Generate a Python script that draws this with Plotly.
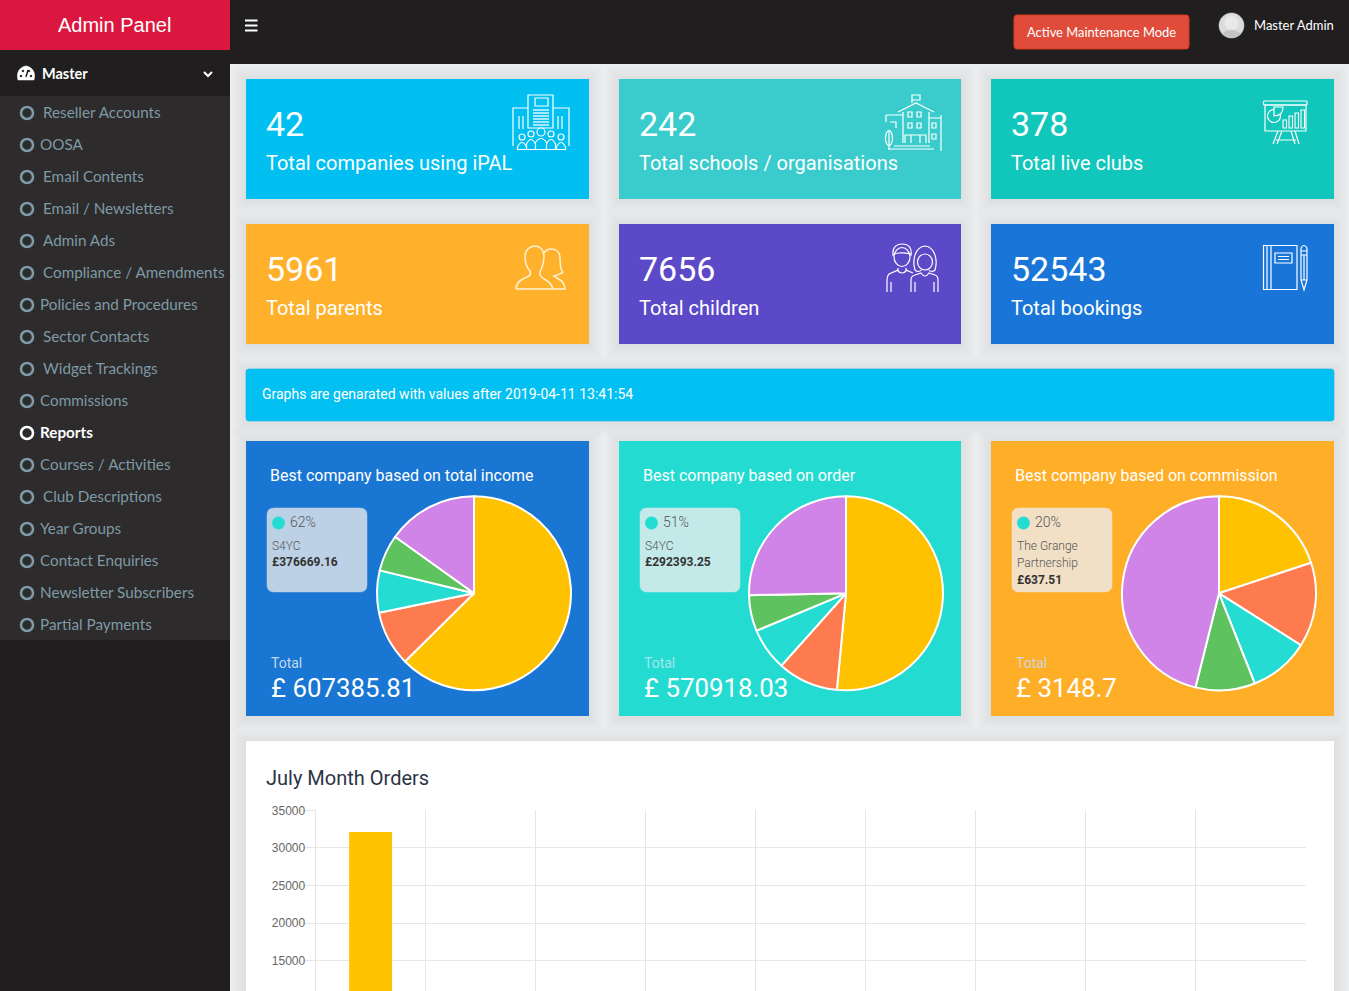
import re
import plotly.graph_objects as go

W, H = 1349, 991

# ---------- data ----------
menu_labels = ["Reseller Accounts", "OOSA", "Email Contents", "Email / Newsletters", "Admin Ads",
               "Compliance / Amendments", "Policies and Procedures", "Sector Contacts", "Widget Trackings",
               "Commissions", "Reports", "Courses / Activities", "Club Descriptions", "Year Groups",
               "Contact Enquiries", "Newsletter Subscribers", "Partial Payments"]
menu_indented = [1, 0, 1, 1, 1, 1, 0, 1, 1, 0, 0, 0, 1, 0, 0, 0, 0]

stat_numbers = ["42", "242", "378", "5961", "7656", "52543"]
stat_labels = ["Total companies using iPAL", "Total schools / organisations", "Total live clubs",
               "Total parents", "Total children", "Total bookings"]
stat_colors = ["#01bff1", "#3acccc", "#11c6ba", "#ffb12b", "#5c49c8", "#1976d8"]

pie_titles = ["Best company based on total income", "Best company based on order", "Best company based on commission"]
pie_totals = ["£ 607385.81", "£ 570918.03", "£ 3148.7"]
pie_percent = ["62%", "51%", "20%"]
pie_company = [["S4YC"], ["S4YC"], ["The Grange", "Partnership"]]
pie_best = ["£376669.16", "£292393.25", "£637.51"]
pie_card_colors = ["#1976d2", "#24dbd1", "#ffaf27"]
pie_tip_colors = ["#bdd1e6", "#c3eae8", "#f2e0c6"]
pie_total_colors = ["#c3d8ee", "#a8e6ee", "#cdd6d6"]
slice_colors = ["#ffc200", "#fd7b4f", "#25dcd2", "#5ec35f", "#d184e8"]
pie_income = [62.6, 9.2, 7.0, 6.1, 15.1]
pie_order = [51.5, 10.1, 7.1, 6.0, 25.3]
pie_commission = [19.9, 14.1, 10.0, 9.9, 46.1]

order_categories = ["1", "2", "3", "4", "5", "6", "7", "8", "9"]
order_values = [32100, 0, 0, 0, 0, 0, 0, 0, 0]
order_ticks = [15000, 20000, 25000, 30000, 35000]

SOURCE = "Lato"
ROBOTO = "Roboto"

# ---------- px helpers ----------
def fx(x): return round(x / W, 6)
def fy(y): return round(1 - y / H, 6)

def to_paper(path):
    state = {"i": 0}
    def sub(m):
        v = float(m.group(0))
        r = fx(v) if state["i"] % 2 == 0 else fy(v)
        state["i"] += 1
        return str(r)
    return re.sub(r"-?\d+\.?\d*", sub, path)

shapes, notes = [], []

def rect(x0, y0, x1, y1, fill):
    shapes.append(dict(type="rect", xref="paper", yref="paper", x0=fx(x0), x1=fx(x1), y0=fy(y1), y1=fy(y0),
                       fillcolor=fill, line=dict(width=0), layer="below"))

def path(d, color="#ffffff", width=1.2, fill="rgba(0,0,0,0)"):
    shapes.append(dict(type="path", xref="paper", yref="paper", path=to_paper(d), fillcolor=fill,
                       line=dict(color=color, width=width), layer="below"))

def rrect_d(x0, y0, x1, y1, r):
    return (f"M{x0+r},{y0} L{x1-r},{y0} Q{x1},{y0} {x1},{y0+r} L{x1},{y1-r} Q{x1},{y1} {x1-r},{y1} "
            f"L{x0+r},{y1} Q{x0},{y1} {x0},{y1-r} L{x0},{y0+r} Q{x0},{y0} {x0+r},{y0} Z")

def circle_d(cx, cy, r, ry=None):
    ry = r if ry is None else ry
    k, ky = r * 0.5523, ry * 0.5523
    return (f"M{cx-r},{cy} C{cx-r},{cy-ky} {cx-k},{cy-ry} {cx},{cy-ry} C{cx+k},{cy-ry} {cx+r},{cy-ky} {cx+r},{cy} "
            f"C{cx+r},{cy+ky} {cx+k},{cy+ry} {cx},{cy+ry} C{cx-k},{cy+ry} {cx-r},{cy+ky} {cx-r},{cy} Z")

def box_d(x0, y0, x1, y1):
    return f"M{x0},{y0} L{x1},{y0} L{x1},{y1} L{x0},{y1} Z"

def text(x, y, s, size, color="#ffffff", family=ROBOTO, anchor="left", weight=None):
    f = dict(size=size, color=color, family=family)
    if weight:
        f["weight"] = weight
    shift = -1 if anchor == "left" else 0
    notes.append(dict(xref="paper", yref="paper", x=fx(x + shift), y=fy(y), text=s, showarrow=False, xanchor=anchor,
                      yanchor="middle", font=f, borderpad=0, align="left"))

def shadow(x0, y0, x1, y1):
    for i in range(1, 15):
        rect(x0 - i, y0 - i + 1, x1 + i, y1 + i + 1, "rgba(0,0,0,0.0035)")

# ---------- page frame ----------
PAGE = "#ecedee"
DARK = "#211e1f"
rect(230, 64, W, H, PAGE)
rect(0, 0, W, 64, DARK)
rect(0, 50, 230, H, DARK)
rect(0, 0, 230, 50, "#dc173f")
rect(0, 96, 230, 640, "#2d2b2c")
text(115, 25, "Admin Panel", 20, family="Liberation Sans", anchor="center")

# hamburger
for y in (20.5, 25.5, 30.5):
    rect(245, y - 1, 257.5, y + 1, "#ffffff")

# maintenance button
path(rrect_d(1014, 15, 1189, 49, 3), color="#d73925", width=1, fill="#e04b3a")
text(1101.5, 32, "Active Maintenance Mode", 12.9, family=SOURCE, anchor="center")

# avatar
path(circle_d(1231.5, 25.5, 12.5), color="#d9d9d9", width=0.5, fill="#dcdcdc")
path(circle_d(1231.5, 23, 6.5, 7), color="#e9e9e9", width=0.5, fill="#e9e9e9")
path("M1222,34 Q1231.5,26 1241,34 Q1231.5,41 1222,34 Z", color="#c4c4c4", width=0.5, fill="#c4c4c4")
text(1254, 25, "Master Admin", 13, family=SOURCE)

# master row
path("M18,80 C15,69 24,66 26,66 C28,66 37,69 34,80 Z", color="#ffffff", width=0.5, fill="#ffffff")
for cx, cy in [(21, 76), (23, 71), (29, 71), (31, 76)]:
    path(circle_d(cx, cy, 1.1), color=DARK, width=0.3, fill=DARK)
path("M26,77 L28,70", color=DARK, width=1.5)
text(42, 74, "Master", 14.5, family=SOURCE, weight=700)
path("M204,72 L208,76 L212,72", width=2)

# sidebar menu
for i, (label, ind) in enumerate(zip(menu_labels, menu_indented)):
    y = 113 + 32 * i
    active = label == "Reports"
    col = "#ffffff" if active else "#7e9aa5"
    path(circle_d(27, y, 6), color=col, width=2.6)
    text(43 if ind else 40, y - 1, label, 15.25, color=col, family=SOURCE, weight=700 if active else None)

# ---------- stat cards ----------
card_x = [(246, 589), (619, 961), (991, 1334)]
card_y = [(79, 199), (224, 344)]
for i in range(6):
    x0, x1 = card_x[i % 3]
    y0, y1 = card_y[i // 3]
    shadow(x0, y0, x1, y1)
for i in range(6):
    x0, x1 = card_x[i % 3]
    y0, y1 = card_y[i // 3]
    rect(x0, y0, x1, y1, stat_colors[i])
    text(x0 + 20, y0 + 45, stat_numbers[i], 34)
    text(x0 + 20, y0 + 84, stat_labels[i], 20)

# icon 1: tower with people
path(box_d(528, 95, 553, 128))
path(box_d(535, 98, 548, 106))
path("M528,108 L513,108 L513,146 M553,108 L569,108 L569,146")
for x in (519, 523, 558, 562):
    path(f"M{x},116 L{x},129")
for gy in (110, 113, 116, 119, 122, 125):
    path(f"M533,{gy} L549,{gy}", width=1.3)
for hx, hy, hr, bw in [(541, 132, 4, 6), (531, 134, 3, 4.5), (551, 134, 3, 4.5), (522, 137, 3, 4.5), (561, 137, 3, 4.5)]:
    path(circle_d(hx, hy, hr), fill=stat_colors[0])
    path(f"M{hx-bw},149.5 L{hx-bw},{hy+hr+7} Q{hx},{hy+hr-2} {hx+bw},{hy+hr+7} L{hx+bw},149.5 Z", fill=stat_colors[0])

# icon 2: school
path("M912,103 L912,95 L920,95 L920,100 L912,100")
path("M898,112 L916,103 L934,112")
path("M903,112 L903,143 M929,112 L929,143")
for wx in (908, 917):
    for wy in (112, 123):
        path(box_d(wx, wy, wx + 4, wy + 5))
path("M905,143 L905,135 L926,135 L926,143 M911,135 L911,143 M920,135 L920,143")
path("M929,118 L941,118 M941,115 L941,151")
path(box_d(932, 123, 936, 128))
path(box_d(932, 134, 936, 139))
path("M886,115 L903,115 M886,115 L886,122 M890,122 L896,122 L896,128")
path(circle_d(889, 138, 3.5, 7.5))
path("M889,130 L889,150")
path("M888,149 L934,149 M894,146 L930,146")

# icon 3: presentation board
path(rrect_d(1263.5, 101, 1307, 105, 1))
path(box_d(1265, 105, 1306, 131))
path(circle_d(1274, 116, 6.5))
path("M1274,116 L1274,107 L1283,107 Q1283,116 1274,116 Z", fill=stat_colors[2])
for bx, by in [(1283, 120), (1289, 116), (1295, 113), (1301, 110)]:
    path(box_d(bx, by, bx + 3.5, 128), width=1.1)
path("M1278,131 L1273,144 M1282,131 L1277,144 M1295,131 L1299,144 M1291,131 L1295,144 M1276,140 L1296,140")

# icon 4: two silhouettes
path("M516,289 L565,289 C565,283 561,280 557,278 L554,276 C558,275 561,274 563,272 C560,270 560,262 560,258 "
     "C560,252 556,249 551,249 C547,249 545,251 543,254", color="#fff1d6", width=1.5)
path("M516,289 C516,283 520,280 527,277 C530,276 531,274 530,271 C527,268 525,262 525,256 C525,250 530,246 535,246 "
     "C540,246 544,250 544,256 C544,262 542,268 540,272 C539,275 541,277 544,279 C548,281 552,285 553,289",
     color="#fff1d6", width=1.5)

# icon 5: boy and girl
path(circle_d(902, 257, 8, 9.5))
path("M893,255 C892,246 898,244 902,244 C909,244 912,248 911,255 C908,252 903,253 899,253 C896,253 894,254 893,255 Z")
path("M898,268 L898,270 L889,274 Q887,276 887,280 L887,292 M891,282 L891,292 M906,268 L906,270 L913,273")
path("M897,270 Q902,276 907,270")
path(circle_d(925, 262, 7.5, 8))
path("M915,270 C912,260 915,247 925,246 C935,247 938,260 935,270 C933,272 930,272 929,270 M915,270 C917,272 920,272 921,270")
path("M911,292 L911,280 Q911,276 915,275 L921,273 Q925,279 929,273 L935,275 Q938,276 938,280 L938,292 M915,282 L915,292 M934,282 L934,292")

# icon 6: notebook and pencil
path(box_d(1263.5, 245.5, 1297, 289.5))
path("M1267,245.5 L1267,289.5 M1271,245.5 L1271,289.5")
path(box_d(1275, 253, 1292, 263))
path("M1278,256.5 L1289,256.5 M1278,259.5 L1289,259.5", width=1)
path("M1301,280 L1301,248 Q1304,243 1307,248 L1307,280 L1304,290 Z")
path("M1301,251 L1307,251 M1301,255 L1307,255 M1301,280 L1307,280 M1304,255 L1304,280")

# ---------- info bar ----------
shadow(246, 369, 1334, 421)
path(rrect_d(246, 369, 1334, 421, 3), color="#03b8e8", width=0.6, fill="#03c0f2")
text(262, 394, "Graphs are genarated with values after 2019-04-11 13:41:54", 14)

# ---------- pie cards ----------
pie_card_x = [(246, 589), (619, 961), (991, 1334)]
pie_cx = [474, 846, 1219]
pie_cy = 593.3
pie_r = 97
tip_x = [267, 640, 1012]
for x0, x1 in pie_card_x:
    shadow(x0, 441, x1, 716)
for i, (x0, x1) in enumerate(pie_card_x):
    rect(x0, 441, x1, 716, pie_card_colors[i])
    text(x0 + 24, 475.5, pie_titles[i], 16)
    tx = tip_x[i]
    path(rrect_d(tx, 508, tx + 100, 592, 7), color=pie_tip_colors[i], width=0.5, fill=pie_tip_colors[i])
    path(circle_d(tx + 11.5, 523, 6.2), color="#25dcd2", width=0.5, fill="#25dcd2")
    text(tx + 23, 522, pie_percent[i], 14, color="#555555", weight=300)
    ly = 546
    for line in pie_company[i]:
        text(tx + 5, ly, line, 12, color="#555555", weight=300)
        ly += 17
    text(tx + 5, ly - 1 if len(pie_company[i]) == 1 else ly, pie_best[i], 12, color="#333333", weight=700)
    text(x0 + 25, 663, "Total", 14, color=pie_total_colors[i])
    text(x0 + 24.5, 688, pie_totals[i], 25.8)

# ---------- order chart card ----------
shadow(246, 741, 1334, 1010)
rect(246, 741, 1334, H, "#ffffff")
text(266, 778, "July Month Orders", 20, color="#2b3445")

fig = go.Figure()
for i, vals in enumerate([pie_income, pie_order, pie_commission]):
    cx = pie_cx[i]
    fig.add_trace(go.Pie(values=vals, labels=["A", "B", "C", "D", "E"], sort=False, direction="clockwise", rotation=0,
                         marker=dict(colors=slice_colors, line=dict(color="#ffffff", width=2)),
                         textinfo="none", hoverinfo="skip", showlegend=False,
                         domain=dict(x=[(cx - pie_r) / W, (cx + pie_r) / W],
                                     y=[1 - (pie_cy + pie_r) / H, 1 - (pie_cy - pie_r) / H])))

fig.add_trace(go.Bar(x=order_categories, y=order_values, marker=dict(color="#ffc200", line=dict(width=0)),
                     showlegend=False, hoverinfo="skip"))

GRID = "#e6e6e6"
y_top = 810.3
px_per_5000 = 37.6
y_bottom_value = 35000 - (H - y_top) / px_per_5000 * 5000

fig.update_layout(
    width=W, height=H, margin=dict(l=0, r=0, t=0, b=0, pad=0, autoexpand=False), autosize=False,
    paper_bgcolor=PAGE, plot_bgcolor="rgba(0,0,0,0)", bargap=0.61, showlegend=False,
    shapes=shapes, annotations=notes,
    xaxis=dict(domain=[315.6 / W, 1305.6 / W], type="category", range=[-0.5, 8.5], tickson="boundaries",
               showgrid=True, gridcolor=GRID, gridwidth=1, showticklabels=False, ticks="", zeroline=False, showline=False,
               automargin=False),
    yaxis=dict(domain=[0, 1 - y_top / H], range=[y_bottom_value, 35000], tickvals=order_ticks,
               ticktext=[str(v) for v in order_ticks], showgrid=True, gridcolor=GRID, gridwidth=1, zeroline=False,
               showline=True, linecolor=GRID, linewidth=1, ticks="outside", ticklen=10, tickcolor=GRID, tickwidth=1,
               automargin=False,
               ticklabelstandoff=-3, tickfont=dict(family="Liberation Sans", size=12, color="#666666")),
)

fig.write_html("out.html", config=dict(displayModeBar=False, responsive=False),
               post_script="document.body.style.margin='0';document.body.style.overflow='hidden';")
